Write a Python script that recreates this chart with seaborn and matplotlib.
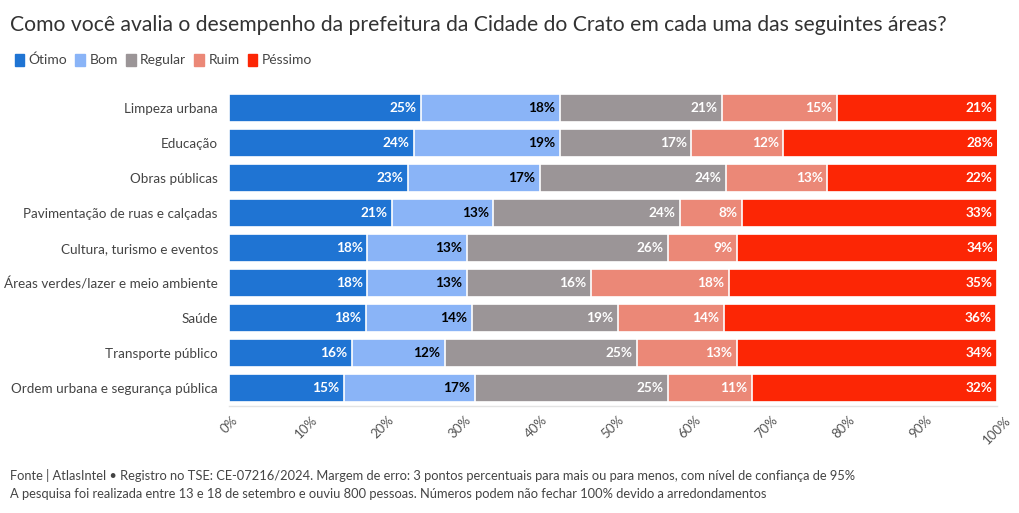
import matplotlib
matplotlib.use("Agg")
import matplotlib.pyplot as plt
import seaborn as sns
import numpy as np
import pandas as pd
from matplotlib.patches import Patch

categories = ["Limpeza urbana", "Educação", "Obras públicas",
              "Pavimentação de ruas e calçadas", "Cultura, turismo e eventos",
              "Áreas verdes/lazer e meio ambiente", "Saúde", "Transporte público",
              "Ordem urbana e segurança pública"]
series_names = ["Ótimo", "Bom", "Regular", "Ruim", "Péssimo"]
otimo   = [25.0, 24.1, 23.3, 21.2, 18.0, 18.0, 17.8, 16.0, 15.0]
bom     = [18.1, 19.0, 17.2, 13.2, 13.0, 13.0, 13.8, 12.1, 17.0]
regular = [21.1, 17.1, 24.2, 24.3, 26.2, 16.1, 19.0, 25.0, 25.2]
ruim    = [15.0, 12.0, 13.2, 8.1, 9.0, 18.0, 13.8, 13.0, 10.9]
pessimo = [20.8, 27.9, 22.1, 33.2, 33.9, 34.9, 35.5, 33.9, 31.9]
labels_otimo   = [25, 24, 23, 21, 18, 18, 18, 16, 15]
labels_bom     = [18, 19, 17, 13, 13, 13, 14, 12, 17]
labels_regular = [21, 17, 24, 24, 26, 16, 19, 25, 25]
labels_ruim    = [15, 12, 13, 8, 9, 18, 14, 13, 11]
labels_pessimo = [21, 28, 22, 33, 34, 35, 36, 34, 32]
xticks = [0, 10, 20, 30, 40, 50, 60, 70, 80, 90, 100]

colors = ["#1f74d3", "#8ab4f7", "#9b9597", "#eb8877", "#fc2605"]
text_colors = ["white", "black", "white", "white", "white"]

sns.set_theme(style="white")
plt.rcParams['font.family'] = ['Lato', 'DejaVu Sans']

fig = plt.figure(figsize=(10.2, 5.13), dpi=100)
ax = fig.add_axes([229/1020, 1-405.5/513, 768/1020, 315/513])

values = [otimo, bom, regular, ruim, pessimo]
labs = [labels_otimo, labels_bom, labels_regular, labels_ruim, labels_pessimo]
cum = np.cumsum(np.array(values), axis=0)

for i in reversed(range(5)):
    df = pd.DataFrame({"cat": categories, "val": cum[i]})
    sns.barplot(data=df, x="val", y="cat", color=colors[i], ax=ax, width=0.82,
                edgecolor="white", linewidth=1.2, saturation=1, orient="h")

for i in range(5):
    for j in range(len(categories)):
        ax.text(cum[i][j] - 0.6, j, f"{labs[i][j]}%", ha="right", va="center",
                color=text_colors[i], fontsize=9.8, fontweight="bold")

ax.set_xlim(0, 100)
ax.set_ylim(8.5, -0.5)
ax.set_xticks(xticks)
ax.set_xticklabels([f"{t}%" for t in xticks], rotation=45, ha="center",
                   fontsize=9.5, color="#555555")
ax.tick_params(axis="x", length=4, color="#dddddd", pad=2)
ax.tick_params(axis="y", length=5, color="#dddddd", labelsize=9.7, labelcolor="#444444", pad=3)
ax.set_xlabel("")
ax.set_ylabel("")
for s in ["top", "right", "left"]:
    ax.spines[s].set_visible(False)
ax.spines["bottom"].set_color("#e3e3e3")
ax.spines["bottom"].set_linewidth(1)

fig.text(10/1020, 1-25/513, "Como você avalia o desempenho da prefeitura da Cidade do Crato em cada uma das seguintes áreas?",
         fontsize=15.2, color="#333333", va="center", ha="left")

handles = [Patch(facecolor=c, edgecolor=c, label=n) for c, n in zip(colors, series_names)]
fig.legend(handles=handles, loc="center left", bbox_to_anchor=(2/1020, 1-60/513), ncol=5,
           frameon=False, fontsize=10, handlelength=0.7, handleheight=1.0,
           handletextpad=0.3, columnspacing=0.6, labelcolor="#444444")

fig.text(10/1020, 1-476/513,
         "Fonte | AtlasIntel • Registro no TSE: CE-07216/2024. Margem de erro: 3 pontos percentuais para mais ou para menos, com nível de confiança de 95%",
         fontsize=9.3, color="#444444", va="center", ha="left")
fig.text(10/1020, 1-494/513,
         "A pesquisa foi realizada entre 13 e 18 de setembro e ouviu 800 pessoas. Números podem não fechar 100% devido a arredondamentos",
         fontsize=9.3, color="#444444", va="center", ha="left")

fig.savefig("out.png", dpi=100, facecolor="white")
